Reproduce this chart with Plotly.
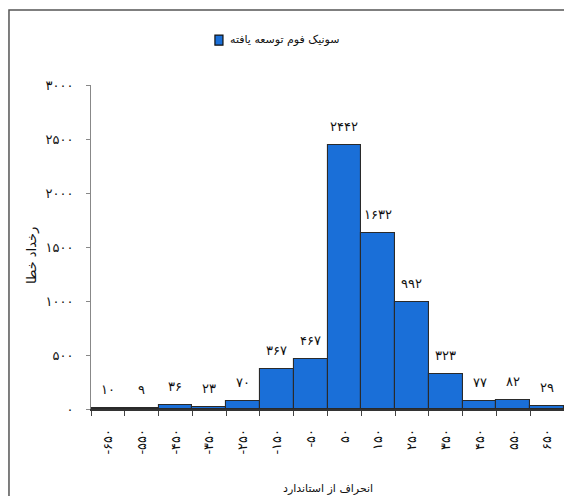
import plotly.graph_objects as go

# data
bins = [-650, -550, -450, -350, -250, -150, -50, 50, 150, 250, 350, 450, 550, 650]
counts = [10, 9, 36, 23, 70, 367, 467, 2442, 1632, 992, 323, 77, 82, 29]
y_ticks = [0, 500, 1000, 1500, 2000, 2500, 3000]

series_name = 'سونیک فوم توسعه یافته'
x_title = 'انحراف از استاندارد'
y_title = 'رخداد خطا'

FA_DIGITS = str.maketrans('0123456789', '۰۱۲۳۴۵۶۷۸۹')


def fa(n):
    return str(n).translate(FA_DIGITS)


cats = ['\u200e' + fa(b) for b in bins]
FONT = 'DejaVu Sans'
BLUE = '#1a6fd8'

fig = go.Figure()
fig.add_trace(go.Bar(
    x=cats, y=counts, name=series_name,
    marker=dict(color=BLUE, line=dict(color='#2a2a2a', width=1.1)),
    showlegend=False,
))

# value labels above bars
for c, v in zip(cats, counts):
    fig.add_annotation(x=c, y=v, text=fa(v), showarrow=False,
                       yanchor='bottom', yshift=9,
                       font=dict(family=FONT, size=13, color='#111'))

# legend drawn by hand (symbol on the right, rtl)
fig.add_shape(type='rect', xref='paper', yref='paper',
              x0=0.262, x1=0.279, y0=1.123, y1=1.154,
              fillcolor=BLUE, line=dict(color='#111', width=1.2))
fig.add_annotation(xref='paper', yref='paper', x=0.29, y=1.139,
                   text=series_name, showarrow=False,
                   xanchor='left', yanchor='middle',
                   font=dict(family=FONT, size=11, color='#111'))

# axis titles
fig.add_annotation(xref='paper', yref='paper', x=-0.125, y=0.475,
                   text=y_title, textangle=-90, showarrow=False,
                   xanchor='center', yanchor='middle',
                   font=dict(family=FONT, size=13, color='#111'))
fig.add_annotation(xref='paper', yref='paper', x=0.5, y=-0.245,
                   text=x_title, showarrow=False,
                   xanchor='center', yanchor='middle',
                   font=dict(family=FONT, size=11, color='#111'))

# outer frame
fig.add_shape(type='rect', xref='paper', yref='paper',
              x0=-0.1734, x1=1.1, y0=-0.4, y1=1.2315,
              line=dict(color='#555', width=1.5), layer='below')

fig.update_layout(
    width=564, height=488,
    margin=dict(l=83, r=8, t=77, b=87),
    paper_bgcolor='white', plot_bgcolor='white',
    bargap=0,
    font=dict(family=FONT, size=12, color='#111'),
)
fig.update_xaxes(
    type='category', tickson='boundaries', tickangle=-90,
    ticks='outside', ticklen=5, tickcolor='#444',
    showline=True, linecolor='#333', linewidth=1.5,
    showgrid=False, tickfont=dict(size=13), ticklabelstandoff=13,
)
fig.update_yaxes(
    range=[0, 3000], tickvals=y_ticks, ticktext=[fa(t) for t in y_ticks],
    ticks='outside', ticklen=4, tickcolor='#888',
    showline=True, linecolor='#888', linewidth=1,
    showgrid=False, zeroline=False, ticklabelstandoff=10,
    tickfont=dict(size=13),
)

fig.write_html("out.html")
